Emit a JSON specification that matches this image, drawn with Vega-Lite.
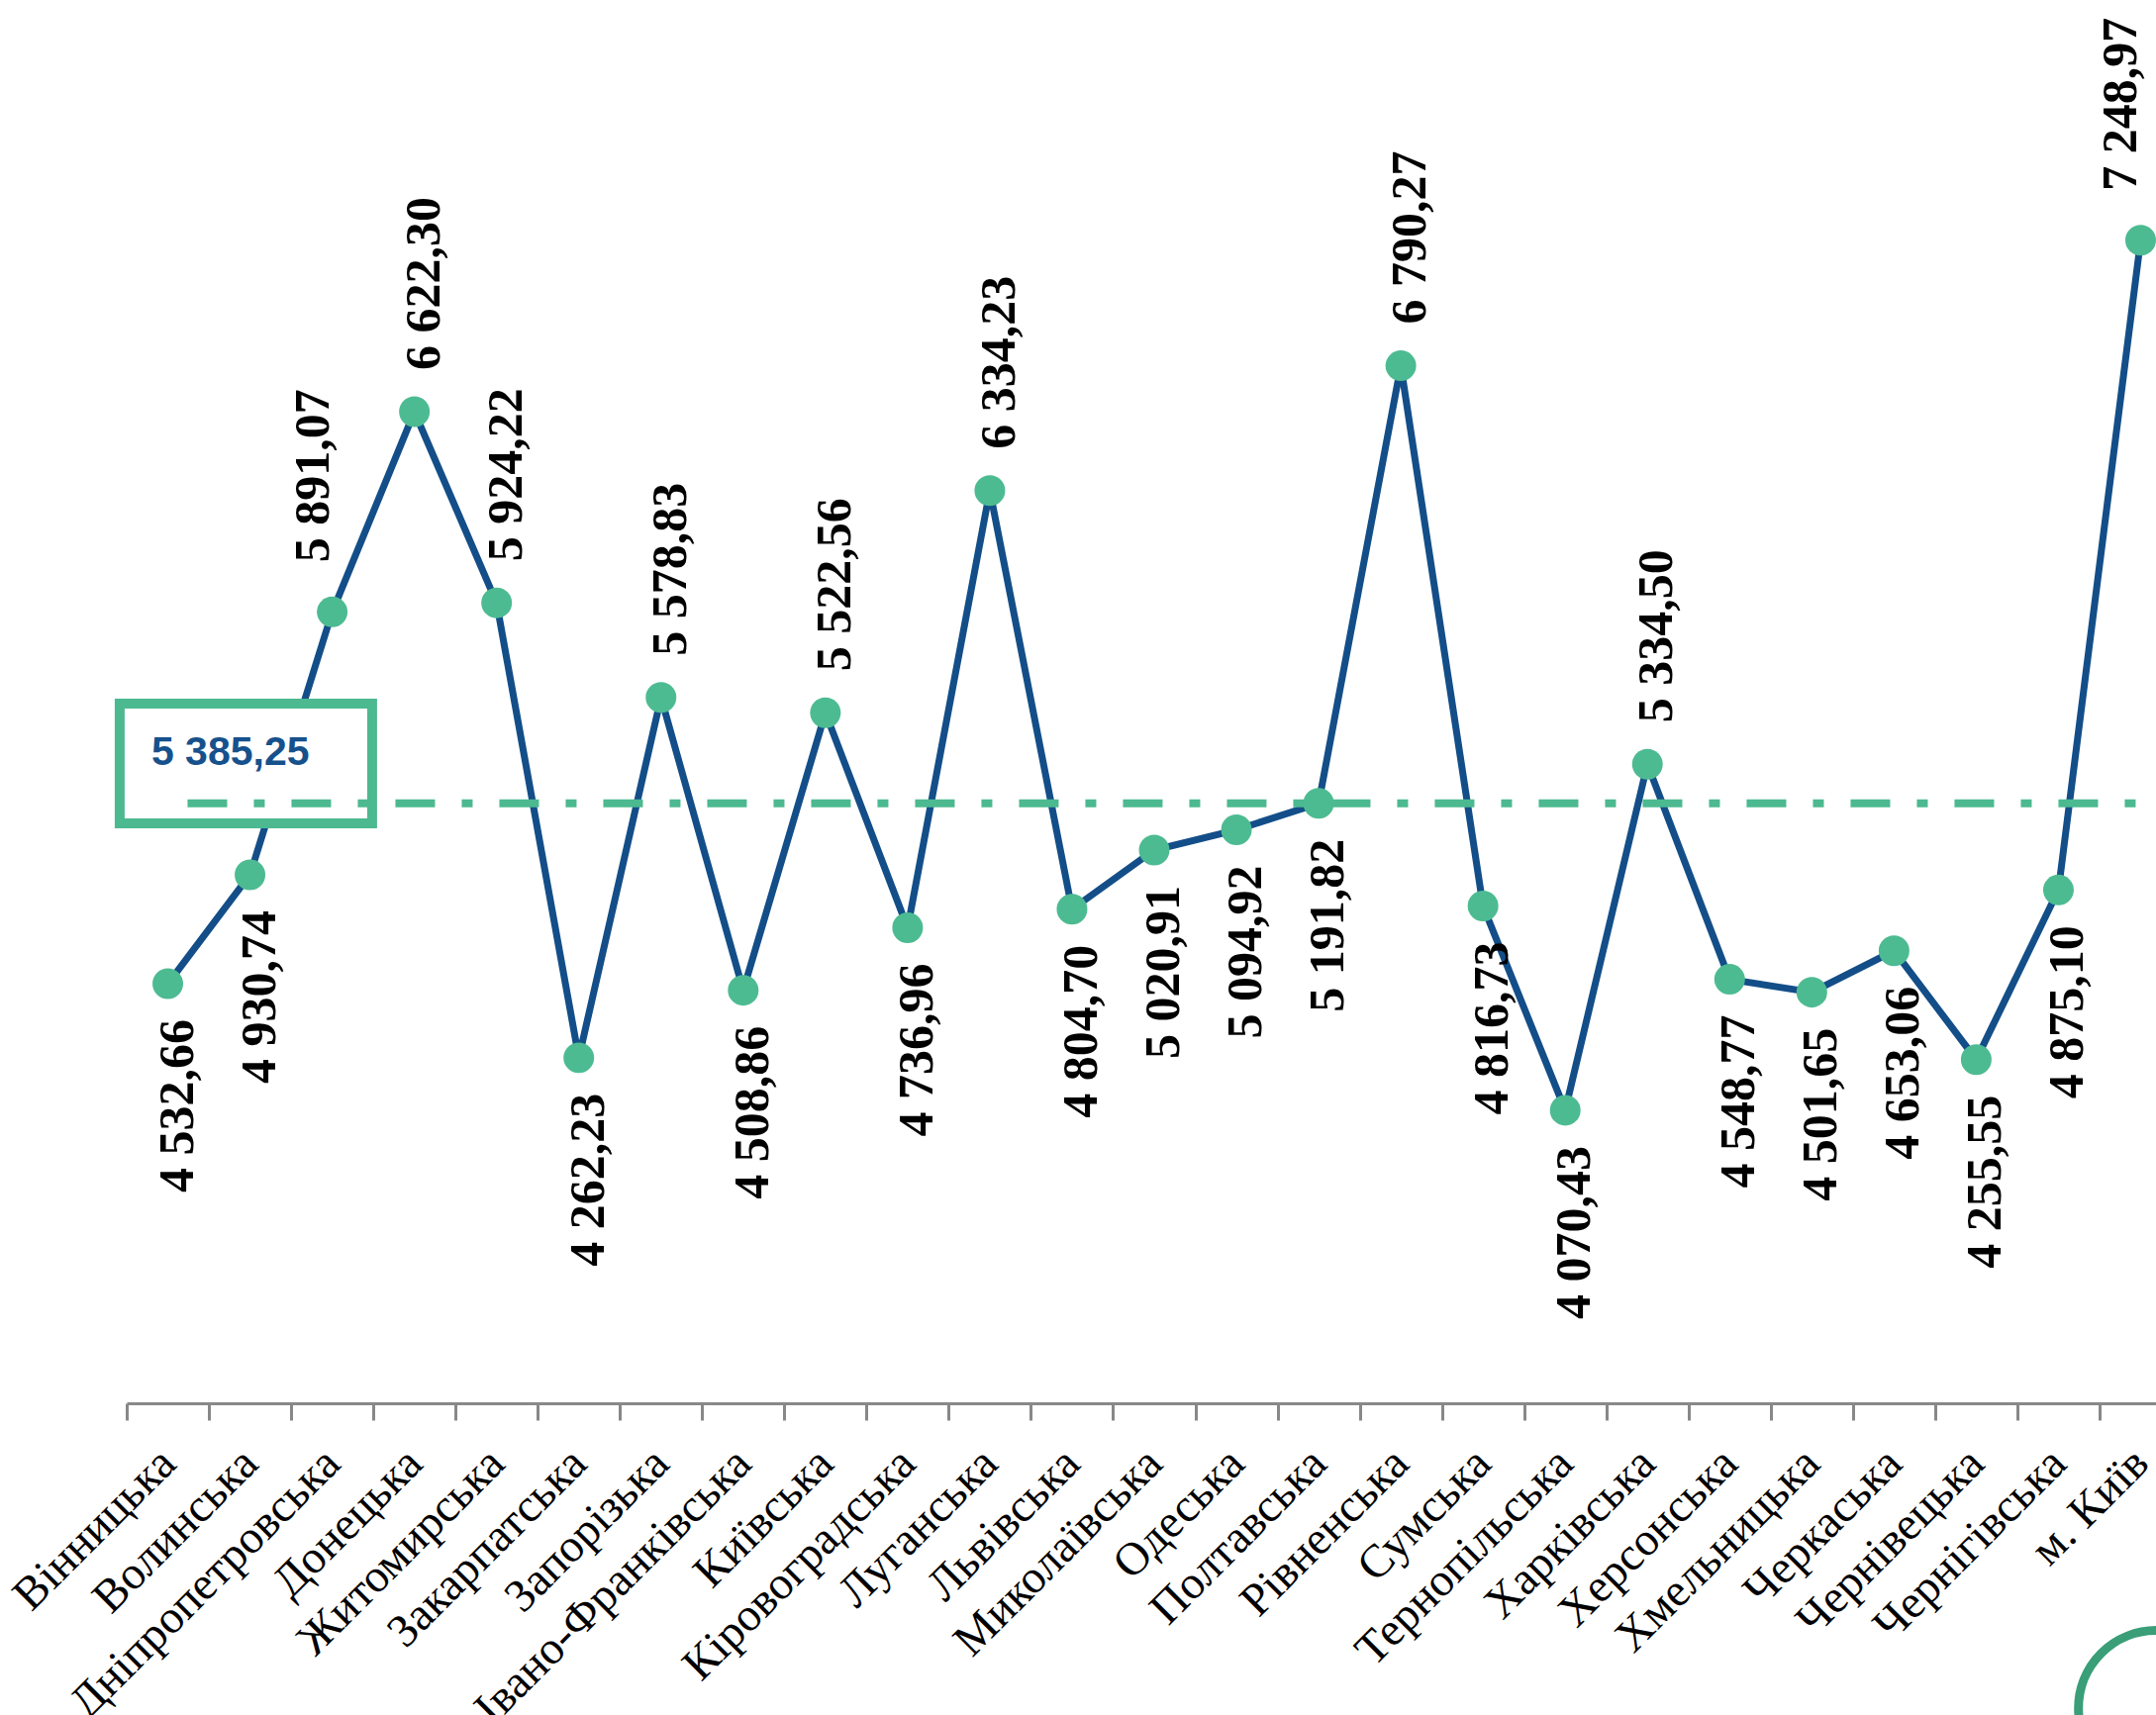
{
  "$schema": "https://vega.github.io/schema/vega-lite/v6.json",
  "width": 2050,
  "height": 1383,
  "autosize": {"type": "none"},
  "padding": {"left": 128, "top": 35, "right": 0, "bottom": 315},
  "background": "white",
  "config": {
    "view": {"stroke": null},
    "locale": {"number": {"decimal": ",", "thousands": " ", "grouping": [3], "currency": ["", ""]}}
  },
  "data": {"values": [
    {"region": "Вінницька", "value": 4532.66},
    {"region": "Волинська", "value": 4930.74},
    {"region": "Дніпропетровська", "value": 5891.07},
    {"region": "Донецька", "value": 6622.30},
    {"region": "Житомирська", "value": 5924.22},
    {"region": "Закарпатська", "value": 4262.23},
    {"region": "Запорізька", "value": 5578.83},
    {"region": "Івано-Франківська", "value": 4508.86},
    {"region": "Київська", "value": 5522.56},
    {"region": "Кіровоградська", "value": 4736.96},
    {"region": "Луганська", "value": 6334.23},
    {"region": "Львівська", "value": 4804.70},
    {"region": "Миколаївська", "value": 5020.91},
    {"region": "Одеська", "value": 5094.92},
    {"region": "Полтавська", "value": 5191.82},
    {"region": "Рівненська", "value": 6790.27},
    {"region": "Сумська", "value": 4816.73},
    {"region": "Тернопільська", "value": 4070.43},
    {"region": "Харківська", "value": 5334.50},
    {"region": "Херсонська", "value": 4548.77},
    {"region": "Хмельницька", "value": 4501.65},
    {"region": "Черкаська", "value": 4653.06},
    {"region": "Чернівецька", "value": 4255.55},
    {"region": "Чернігівська", "value": 4875.10},
    {"region": "м. Київ", "value": 7248.97},
    {"region": "Вінницька", "value": 5385.25, "measure": "average"}
  ]},
  "encoding": {
    "x": {
      "field": "region", "type": "nominal", "sort": null,
      "scale": {
        "type": "band", "range": [0, 2076], "paddingInner": 0, "paddingOuter": 0,
        "domain": ["Вінницька","Волинська","Дніпропетровська","Донецька","Житомирська","Закарпатська","Запорізька","Івано-Франківська","Київська","Кіровоградська","Луганська","Львівська","Миколаївська","Одеська","Полтавська","Рівненська","Сумська","Тернопільська","Харківська","Херсонська","Хмельницька","Черкаська","Чернівецька","Чернігівська","м. Київ"]
      },
      "axis": {
        "title": null, "domainColor": "#888888", "domainWidth": 3,
        "tickColor": "#888888", "tickWidth": 3, "tickSize": 17, "tickBand": "extent",
        "labelAngle": -45, "labelAlign": "right", "labelBaseline": "middle",
        "labelPadding": 36, "labelFont": "Liberation Serif", "labelFontSize": 47,
        "labelColor": "black", "labelLimit": 1000, "labelOverlap": false, "grid": false
      }
    }
  },
  "layer": [
    {
      "transform": [{"filter": "datum.measure !== 'average'"}],
      "mark": {"type": "line", "color": "#134e88", "strokeWidth": 7},
      "encoding": {"y": {"field": "value", "type": "quantitative", "scale": {"domain": [3000, 8000], "zero": false, "nice": false}, "axis": null}}
    },
    {
      "transform": [{"filter": "datum.measure === 'average'"}],
      "mark": {"type": "point", "shape": "M-1,-0.4745L1,-0.4745L1,0.4745L-1,0.4745Z", "size": 65025, "filled": false, "fill": "white", "fillOpacity": 1, "stroke": "#4cb990", "strokeWidth": 10, "opacity": 1},
      "encoding": {
        "x": {"field": "region", "type": "nominal", "bandPosition": 1.45},
        "y": {"datum": 5337, "type": "quantitative"}
      }
    },
    {
      "transform": [{"filter": "datum.measure === 'average'"}],
      "mark": {"type": "rule", "color": "#4cb990", "strokeWidth": 8, "strokeDash": [40, 27, 11, 27]},
      "encoding": {
        "x": {"field": "region", "type": "nominal", "bandPosition": 0.74},
        "x2": {"value": "width"},
        "y": {"datum": 5192, "type": "quantitative"}
      }
    },
    {
      "transform": [{"filter": "datum.measure === 'average'"}],
      "mark": {"type": "text", "align": "left", "baseline": "alphabetic", "font": "Liberation Sans", "fontWeight": "bold", "fontSize": 41, "color": "#16518c"},
      "encoding": {
        "x": {"field": "region", "type": "nominal", "bandPosition": 0.3},
        "y": {"datum": 5332, "type": "quantitative"},
        "text": {"field": "value", "type": "quantitative", "format": ",.2f"}
      }
    },
    {
      "transform": [{"filter": "datum.measure !== 'average'"}],
      "mark": {"type": "circle", "size": 960, "color": "#4dbb92", "opacity": 1},
      "encoding": {"y": {"field": "value", "type": "quantitative"}}
    },
    {
      "transform": [{"filter": "datum.measure !== 'average' && datum.value > 5200 && datum.region !== 'м. Київ' && datum.region !== 'Дніпропетровська'"}],
      "mark": {"type": "text", "angle": 270, "align": "left", "baseline": "middle", "dx": 42, "dy": 10, "font": "Liberation Serif", "fontWeight": "bold", "fontSize": 50, "color": "black"},
      "encoding": {"y": {"field": "value", "type": "quantitative"}, "text": {"field": "value", "type": "quantitative", "format": ",.2f"}}
    },
    {
      "transform": [{"filter": "datum.measure !== 'average' && (datum.region === 'м. Київ' || datum.region === 'Дніпропетровська')"}],
      "mark": {"type": "text", "angle": 270, "align": "left", "baseline": "middle", "dx": 50, "dy": -19, "font": "Liberation Serif", "fontWeight": "bold", "fontSize": 50, "color": "black"},
      "encoding": {"y": {"field": "value", "type": "quantitative"}, "text": {"field": "value", "type": "quantitative", "format": ",.2f"}}
    },
    {
      "transform": [{"filter": "datum.measure !== 'average' && datum.value <= 5200"}],
      "mark": {"type": "text", "angle": 270, "align": "right", "baseline": "middle", "dx": -36, "dy": 10, "font": "Liberation Serif", "fontWeight": "bold", "fontSize": 50, "color": "black"},
      "encoding": {"y": {"field": "value", "type": "quantitative"}, "text": {"field": "value", "type": "quantitative", "format": ",.2f"}}
    },
    {
      "transform": [{"filter": "datum.measure !== 'average' && datum.region === 'м. Київ'"}],
      "mark": {"type": "point", "shape": "circle", "size": 24700, "filled": false, "stroke": "#3a9e78", "strokeWidth": 9, "opacity": 1},
      "encoding": {
        "x": {"field": "region", "type": "nominal", "bandPosition": 0.69},
        "y": {"datum": 1886, "type": "quantitative"}
      }
    }
  ]
}
